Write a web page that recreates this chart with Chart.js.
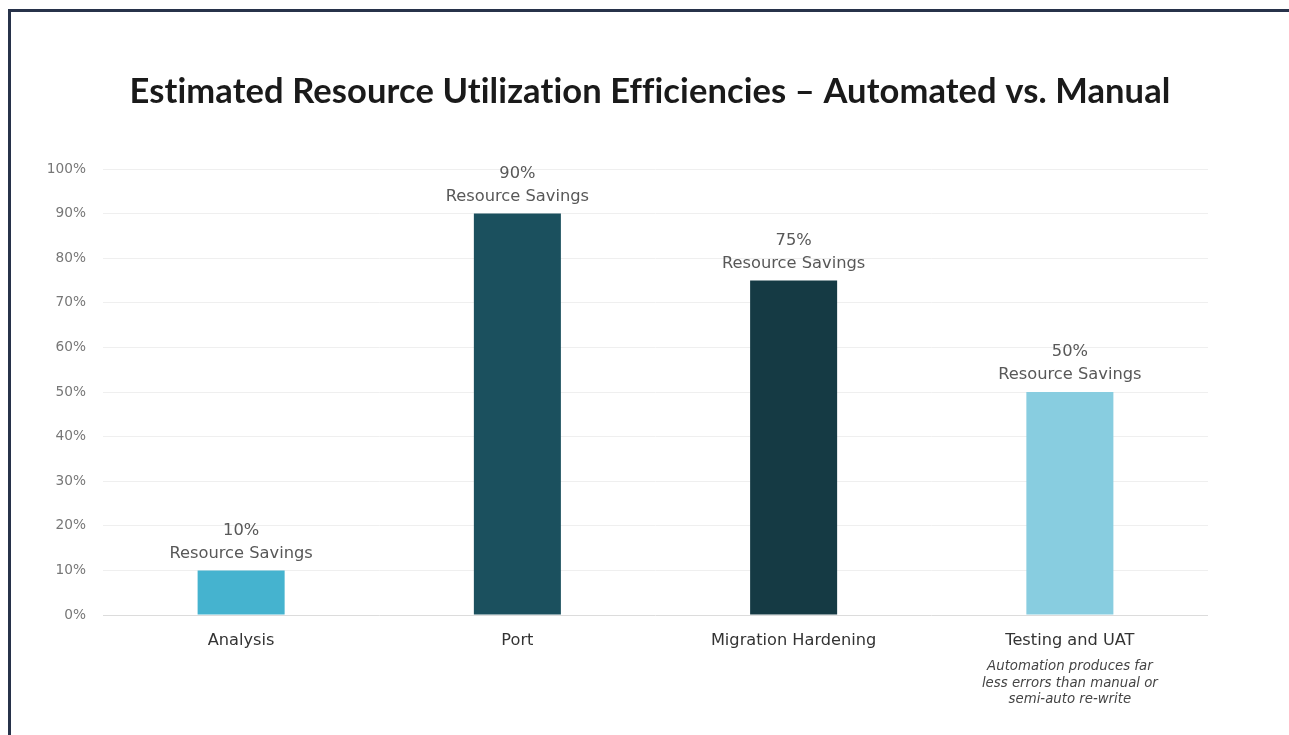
<!DOCTYPE html>
<html>
<head>
<meta charset="utf-8">
<script src="https://cdn.jsdelivr.net/npm/chart.js@4"></script>
<style>
  html,body{margin:0;padding:0;background:#fff;overflow:hidden;}
  #frame{position:absolute;left:8px;top:9px;width:1400px;height:900px;border:3px solid #27324a;box-sizing:border-box;}
  #wrap{position:absolute;left:0;top:0;width:1289px;height:735px;}
</style>
</head>
<body>
<div id="frame"></div>
<div id="wrap"><canvas id="c" width="1289" height="735"></canvas></div>
<script>
const titleText = "Estimated Resource Utilization Efficiencies – Automated vs. Manual";
const categories = ["Analysis", "Port", "Migration Hardening", "Testing and UAT"];
const savings = [10, 90, 75, 50];
const barColors = ["#45b3cf", "#1b505e", "#153a44", "#88cde0"];
const labelLine2 = "Resource Savings";
const noteCategory = "Testing and UAT";
const noteLines = ["Automation produces far", "less errors than manual or", "semi-auto re-write"];
const yTicks = [0,10,20,30,40,50,60,70,80,90,100];

const FONT = "'DejaVu Sans', 'Noto Sans', sans-serif";

const labelPlugin = {
  id: 'barLabels',
  afterDatasetsDraw(chart) {
    const ctx = chart.ctx;
    const meta = chart.getDatasetMeta(0);
    ctx.save();
    ctx.textAlign = 'center';
    ctx.textBaseline = 'middle';
    // title
    ctx.fillStyle = '#1a1a1a';
    ctx.font = "bold 34.5px Lato, 'Open Sans', sans-serif";
    try { ctx.letterSpacing = '0.1px'; } catch (e) {}
    ctx.fillText(titleText, 650, 92);
    try { ctx.letterSpacing = '0px'; } catch (e) {}
    // bar labels
    ctx.fillStyle = '#585858';
    ctx.font = "400 16.3px " + FONT;
    meta.data.forEach((bar, i) => {
      ctx.fillText(savings[i] + '%', bar.x, bar.y - 40);
      ctx.fillText(labelLine2, bar.x, bar.y - 17);
    });
    // note under category
    const xs = chart.scales.x;
    const idx = categories.indexOf(noteCategory);
    const x = xs.getPixelForValue(idx);
    ctx.font = "italic 400 13.3px " + FONT;
    ctx.fillStyle = '#444';
    noteLines.forEach((l, j) => ctx.fillText(l, x, 667 + j * 16.5));
    ctx.restore();
  }
};

new Chart(document.getElementById('c'), {
  type: 'bar',
  data: {
    labels: categories,
    datasets: [{
      data: savings,
      backgroundColor: barColors,
      borderWidth: 0,
      categoryPercentage: 1,
      barPercentage: 0.315
    }]
  },
  options: {
    responsive: false,
    animation: false,
    layout: { padding: { left: 0, right: 81, top: 169, bottom: 0 } },
    plugins: {
      legend: { display: false },
      tooltip: { enabled: false },
      title: { display: false }
    },
    scales: {
      x: {
        grid: { display: false, drawTicks: false },
        border: { display: false },
        ticks: { color: '#333', font: { family: FONT, size: 16.2 }, padding: 16 },
        afterFit(s) { s.height = 120; }
      },
      y: {
        min: 0, max: 100,
        afterBuildTicks(s) { s.ticks = yTicks.map(v => ({ value: v })); },
        grid: {
          color: ctx => ctx.tick && ctx.tick.value === 0 ? '#dcdcdc' : '#efefef',
          lineWidth: 1,
          drawTicks: false
        },
        border: { display: false },
        ticks: {
          color: '#777',
          font: { family: FONT, size: 13.7 },
          padding: 17,
          callback: v => v + '%'
        },
        afterFit(s) { s.width = 103; }
      }
    }
  },
  plugins: [labelPlugin]
});
</script>
</body>
</html>
